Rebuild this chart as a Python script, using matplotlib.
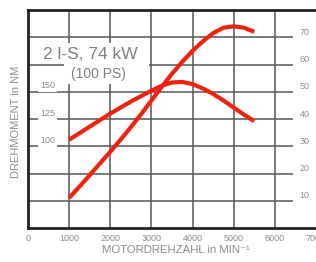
import matplotlib
matplotlib.use("Agg")
import matplotlib.pyplot as plt
from matplotlib.patches import Rectangle

# data
rpm = [1000, 1250, 1500, 1750, 2000, 2250, 2500, 2750, 3000, 3250,
       3500, 3750, 4000, 4250, 4500, 4750, 5000, 5250, 5500]
torque_nm = [106, 112, 118, 124, 130, 135.5, 141, 146, 151, 155.5,
             158.5, 159, 157, 153, 148, 142, 135.5, 129, 123]
power_kw = [11, 15.2, 19.4, 23.7, 28, 32.4, 37, 41.8, 46.8, 51.8,
            56.6, 61, 65, 68.5, 71.5, 73.5, 74, 73.5, 72]

x_ticks = [0, 1000, 2000, 3000, 4000, 5000, 6000, 7000]
x_tick_labels = ["0", "1000", "2000", "3000", "4000", "5000", "6000", "7000"]
torque_labels = [100, 125, 150]
power_labels = [10, 20, 30, 40, 50, 60, 70]
grid_torque = [50, 75, 100, 125, 150, 175, 200]

title1 = "2 l-S, 74 kW"
title2 = "(100 PS)"
xlabel = "MOTORDREHZAHL in MIN\u207b\u00b9"
ylabel = "DREHMOMENT in NM"

plt.rcParams['font.family'] = ['Liberation Sans', 'DejaVu Sans']

fig = plt.figure(figsize=(3.16, 2.62), dpi=100)
ax = fig.add_axes([28/316, 34/262, 288/316, 218/262])
ax.set_xlim(0, 6840)
ax.set_ylim(25, 225)

grid_c = "#555555"
txt_c = "#8c8c8c"
red = "#f2200f"

for v in [1000, 2000, 3000, 4000, 5000, 6000]:
    ax.axvline(v, color=grid_c, lw=1.1, zorder=1)
ax.hlines(grid_torque, 0, 6440, color=grid_c, lw=1.1, zorder=1)

for s in ["left", "bottom", "top"]:
    ax.spines[s].set_linewidth(2.0)
    ax.spines[s].set_color("#222222")
ax.spines["right"].set_visible(False)

ax.set_xticks(x_ticks)
ax.set_xticklabels(x_tick_labels, fontsize=6.5, color=txt_c)
ax.tick_params(axis="x", length=0, pad=4.5)
ax.set_yticks([])

for t in torque_labels:
    ax.text(480, t + 5.5, str(t), fontsize=6.5, color=txt_c, ha="center", va="center",
            bbox=dict(facecolor="white", edgecolor="none", pad=1.5), zorder=2)

# white box behind the title (covers grid)
ax.add_patch(Rectangle((880, 157), 2060, 38, facecolor="white", edgecolor="none", zorder=2))

ax2 = ax.twinx()
ax2.set_ylim(0, 80)
ax2.set_yticks([])
for s in ax2.spines.values():
    s.set_visible(False)
for p in power_labels:
    ax2.text(6600, p + 1.8, str(p), fontsize=6.5, color=txt_c, ha="left", va="center")

ax.plot(rpm, torque_nm, color=red, lw=3.0, solid_capstyle="butt", solid_joinstyle="round", zorder=5)
ax2.plot(rpm, power_kw, color=red, lw=3.0, solid_capstyle="butt", solid_joinstyle="round", zorder=5)

ax.text(1510, 184, title1, fontsize=12.5, color="#808080", ha="center", va="center", zorder=3)
ax.text(1700, 166.5, title2, fontsize=10, color="#808080", ha="center", va="center", zorder=3)

fig.text(176/316, 1 - 250/262, xlabel, fontsize=8.2, color=txt_c, ha="center", va="center")
fig.text(16/316, 1 - 122/262, ylabel, fontsize=8, color=txt_c, ha="center", va="center",
         rotation=90)

fig.savefig("out.png", dpi=100)
